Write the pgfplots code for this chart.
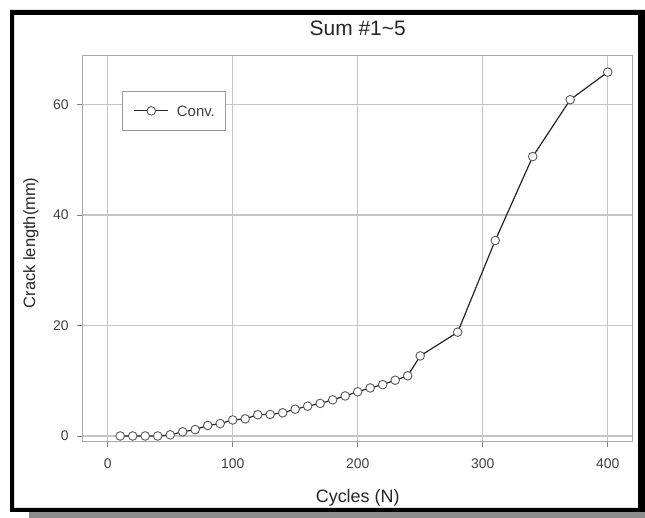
\documentclass[border=0pt]{standalone}
\usepackage{fontspec}
\setmainfont{Liberation Sans}
\usepackage{pgfplots}
\pgfplotsset{compat=1.18}
\definecolor{gridc}{HTML}{C4C4C4}
\definecolor{axc}{HTML}{A8A8A8}
\definecolor{tlc}{HTML}{404040}
\definecolor{shadow}{HTML}{8C8C8C}
\begin{document}
\begin{tikzpicture}
\useasboundingbox (0,0) rectangle (645bp,518bp);
\fill[white] (0,0) rectangle (645bp,518bp);
\fill[black,even odd rule] (10bp,6bp) rectangle (645bp,508bp) (14bp,10bp) rectangle (638bp,503bp);
\fill[shadow] (29bp,0bp) rectangle (645bp,6bp);
\begin{axis}[
  at={(82.7bp,76.5bp)}, anchor=south west,
  scale only axis, width=550bp, height=386.5bp,
  xmin=-20, xmax=420, ymin=-1, ymax=69,
  xtick={0,100,200,300,400}, ytick={0,20,40,60},
  grid=major,
  major grid style={draw=gridc, line width=1.4bp},
  axis line style={draw=axc, line width=1bp},
  tick align=outside, major tick length=5.5bp,
  tick style={draw=gray, line width=0.8bp},
  xtick pos=bottom, ytick pos=left,
  /pgf/number format/assume math mode=true,
  ticklabel style={font=\fontsize{14}{16}\selectfont, text=tlc},
  xticklabel style={yshift=-8bp},
  yticklabel style={xshift=-5bp},
  title={Sum \#1\textasciitilde5},
  title style={at={(0.5,1.034)}, anchor=base, font=\fontsize{21}{24}\selectfont, text=black!85},
  xlabel={Cycles (N)},
  xlabel style={at={(0.5,-0.157)}, anchor=base, font=\fontsize{18}{20}\selectfont, text=black!85},
  ylabel={Crack length(mm)},
  ylabel style={at={(-0.0867,0.514)}, anchor=base, font=\fontsize{16.5}{19}\selectfont, text=black!85},
  legend style={at={(0.072,0.907)}, anchor=north west, draw=gray!80, fill=white,
    font=\fontsize{15}{17}\selectfont, text=tlc, inner xsep=11bp, inner ysep=14bp,
    line width=0.8bp, column sep=8bp,
    nodes={inner sep=0pt, text height=11bp, text depth=0pt}},
  legend image code/.code={\draw[mark repeat=2,mark phase=2] plot coordinates {(0bp,0bp) (17bp,0bp) (34bp,0bp)};},
]
\addplot[draw=black!85, line width=1.2bp, mark=*, mark size=4.3bp,
  mark options={fill=white, draw=black!65, line width=0.9bp}]
  coordinates {
  (10,0) (20,0) (30,0) (40,0) (50,0.2) (60,0.75) (70,1.15) (80,1.9) (90,2.25)
  (100,2.9) (110,3.1) (120,3.85) (130,3.9) (140,4.2) (150,4.85) (160,5.4)
  (170,5.9) (180,6.55) (190,7.25) (200,8.0) (210,8.7) (220,9.3) (230,10.1)
  (240,10.9) (250,14.5) (280,18.8) (310,35.4) (340,50.6) (370,60.9) (400,65.9)
  };
\addlegendentry{Conv.}
\end{axis}
\end{tikzpicture}
\end{document}
